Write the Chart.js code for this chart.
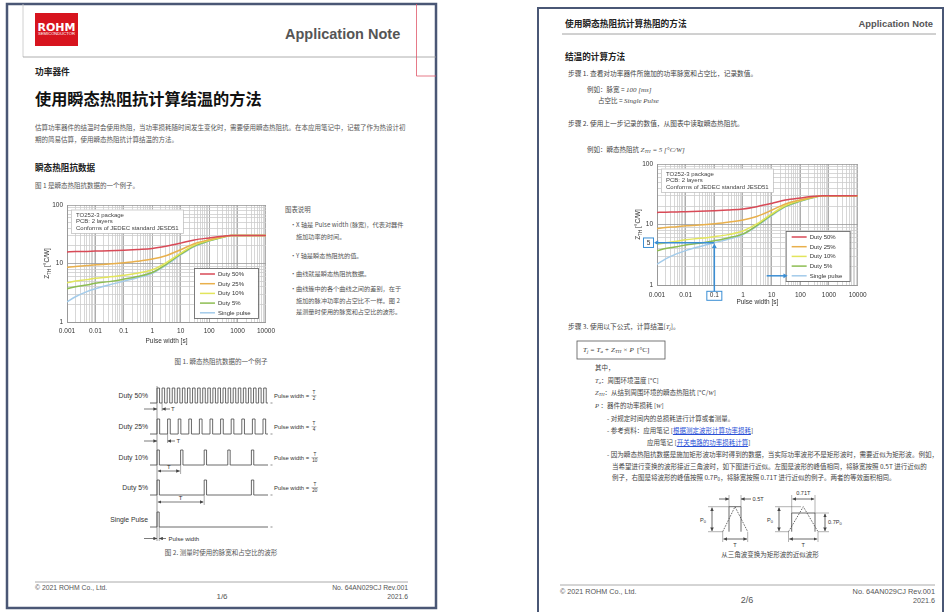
<!DOCTYPE html>
<html lang="zh-CN">
<head>
<meta charset="utf-8">
<title>使用瞬态热阻抗计算结温的方法</title>
<script src="https://cdn.jsdelivr.net/npm/chart.js@4.4.1/dist/chart.umd.min.js"></script>
<style>
  html, body { margin:0; padding:0; background:#fff; }
  body { position:relative; width:949px; height:612px; overflow:hidden;
         font-family:"Noto Sans CJK SC","Liberation Sans",sans-serif; color:#444; }
  .t { position:absolute; white-space:nowrap; line-height:1; }
  .lat { font-family:"Liberation Sans",Arial,sans-serif; }
  .b { font-weight:bold; }
  .c { transform:translateX(-50%); }
  .m { font-family:"Liberation Serif","DejaVu Serif",serif; font-style:italic; }
  sub { font-size:70%; vertical-align:-0.25em; line-height:0; }
  .lnk { color:#2a4fd6; text-decoration:underline; }
  .chart { position:absolute; }
  svg.deco { position:absolute; left:0; top:0; }
</style>
</head>
<body>
<svg class="deco" id="deco" width="949" height="612" xmlns="http://www.w3.org/2000/svg">
  <defs>
    <marker id="ah" viewBox="0 0 6 6" refX="6" refY="3" markerUnits="userSpaceOnUse"
            markerWidth="3.6" markerHeight="3.6" orient="auto-start-reverse">
      <path d="M0 0 L6 3 L0 6 Z" fill="#444"/>
    </marker>
  </defs>
  <!-- page 1 frame and header -->
  <rect x="7" y="4" width="429" height="604" fill="none" stroke="#4a5775" stroke-width="2.5"/>
  <line x1="23" y1="4" x2="23" y2="57" stroke="#c4c4c4" stroke-width="0.8"/>
  <line x1="23" y1="57" x2="436" y2="57" stroke="#9a9a9a" stroke-width="0.8"/>
  <polyline points="416.5,4 416.5,76 436,76" fill="none" stroke="#e0586a" stroke-width="0.8"/>
  <rect x="35" y="13" width="43" height="33" fill="#d7141e"/>
  <text x="56.5" y="30.6" text-anchor="middle" font-family="DejaVu Sans" font-weight="bold" font-size="11" fill="#fff">ROHM</text>
  <text x="38" y="35.4" font-family="Liberation Sans" font-size="3" fill="#fff" textLength="37" lengthAdjust="spacingAndGlyphs">SEMICONDUCTOR</text>
  <line x1="35" y1="582" x2="408" y2="582" stroke="#aaa" stroke-width="1"/>

  <!-- page 2 frame and header -->
  <rect x="538" y="8" width="405" height="620" fill="none" stroke="#4a5775" stroke-width="2"/>
  <line x1="562" y1="34" x2="936" y2="34" stroke="#8a8a8a" stroke-width="0.8"/>
  <line x1="560" y1="585" x2="935" y2="585" stroke="#aaa" stroke-width="1"/>
  <rect x="577" y="341" width="88" height="18" fill="none" stroke="#555" stroke-width="0.8"/>

  <!-- triangle to rectangle approximation, left: same peak, 0.5T -->
  <g stroke="#444" stroke-width="0.8" fill="none">
    <path d="M729 531.7 V506.7 H741 V531.7"/>
    <path d="M722.7 531.7 L735 506.7 L747.7 531.7" stroke-dasharray="1.6 1.2"/>
    <path d="M708 506.7 H729 M708 531.7 H722.7 M729 495 V506.7 M741 495 V506.7 M722.7 531.7 V542 M747.7 531.7 V542" stroke="#666" stroke-width="0.5"/>
    <line x1="712" y1="507.5" x2="712" y2="531" marker-start="url(#ah)" marker-end="url(#ah)"/>
    <line x1="719" y1="499" x2="729" y2="499" marker-end="url(#ah)"/>
    <line x1="751" y1="499" x2="741" y2="499" marker-end="url(#ah)"/>
    <line x1="723.5" y1="539" x2="747" y2="539" marker-start="url(#ah)" marker-end="url(#ah)"/>
  </g>
  <!-- right: 0.7 peak, 0.71T -->
  <g stroke="#444" stroke-width="0.8" fill="none">
    <path d="M791.7 531.7 V513 H815 V531.7"/>
    <path d="M788.5 531.7 L803.3 506.7 L818 531.7" stroke-dasharray="1.6 1.2"/>
    <path d="M775 506.7 H801 M775 531.7 H788.5 M815 513 H829 M818 531.7 H829 M791.7 495 V513 M815 495 V513 M788.5 531.7 V542 M818 531.7 V542" stroke="#666" stroke-width="0.5"/>
    <line x1="779" y1="507.5" x2="779" y2="531" marker-start="url(#ah)" marker-end="url(#ah)"/>
    <line x1="825" y1="513.8" x2="825" y2="531" marker-start="url(#ah)" marker-end="url(#ah)"/>
    <line x1="792.5" y1="499" x2="814.2" y2="499" marker-start="url(#ah)" marker-end="url(#ah)"/>
    <line x1="789.3" y1="539" x2="817.2" y2="539" marker-start="url(#ah)" marker-end="url(#ah)"/>
  </g>
  <g font-family="Liberation Sans" font-size="5.6" fill="#333">
    <text x="752.5" y="501">0.5T</text>
    <text x="706" y="522" text-anchor="end">P<tspan font-size="4" dy="1.4">0</tspan></text>
    <text x="735" y="546.8" text-anchor="middle">T</text>
    <text x="803.3" y="494.6" text-anchor="middle">0.71T</text>
    <text x="773" y="522" text-anchor="end">P<tspan font-size="4" dy="1.4">0</tspan></text>
    <text x="828" y="524">0.7P<tspan font-size="4" dy="1.4">0</tspan></text>
    <text x="803.3" y="546.8" text-anchor="middle">T</text>
  </g>
</svg>

<!-- page 1 -->
<div class="t lat b" style="left:285px;top:27px;font-size:14.5px;color:#555">Application Note</div>
<div class="t b" style="left:35px;top:67.8px;font-size:8.7px;color:#222">功率器件</div>
<div class="t b" style="left:35px;top:90.4px;font-size:16.2px;color:#111">使用瞬态热阻抗计算结温的方法</div>
<div class="t" style="left:35px;top:123.7px;font-size:6.5px;color:#555">估算功率器件的结温时会使用热阻，当功率损耗随时间发生变化时，需要使用瞬态热阻抗。在本应用笔记中，记载了作为热设计初</div>
<div class="t" style="left:35px;top:135.7px;font-size:6.5px;color:#555">期的简易估算，使用瞬态热阻抗计算结温的方法。</div>
<div class="t b" style="left:35px;top:162.5px;font-size:8.6px;color:#222">瞬态热阻抗数据</div>
<div class="t" style="left:35px;top:182.1px;font-size:6.5px;color:#555">图 1 是瞬态热阻抗数据的一个例子。</div>

<div class="t" style="left:285px;top:206.5px;font-size:6.4px;color:#555">图表说明</div>
<div class="t" style="left:290px;top:222.2px;font-size:6.4px;color:#555">·</div>
<div class="t" style="left:296px;top:222.2px;font-size:6.2px;color:#555">X 轴是 Pulse width (脉宽)，代表对器件</div>
<div class="t" style="left:296px;top:234.2px;font-size:6.2px;color:#555">施加功率的时间。</div>
<div class="t" style="left:290px;top:252.5px;font-size:6.4px;color:#555">·</div>
<div class="t" style="left:296px;top:252.5px;font-size:6.2px;color:#555">Y 轴是瞬态热阻抗的值。</div>
<div class="t" style="left:290px;top:270.5px;font-size:6.4px;color:#555">·</div>
<div class="t" style="left:296px;top:270.5px;font-size:6.2px;color:#555">曲线就是瞬态热阻抗数据。</div>
<div class="t" style="left:290px;top:285.5px;font-size:6.4px;color:#555">·</div>
<div class="t" style="left:296px;top:285.5px;font-size:6.2px;color:#555">曲线簇中的各个曲线之间的差别，在于</div>
<div class="t" style="left:296px;top:297.5px;font-size:6.2px;color:#555">施加的脉冲功率的占空比不一样。图 2</div>
<div class="t" style="left:296px;top:308.8px;font-size:6.2px;color:#555">是测量时使用的脉宽和占空比的波形。</div>

<div class="t c" style="left:221px;top:357.5px;font-size:6.5px;color:#555">图 1. 瞬态热阻抗数据的一个例子</div>
<div class="t c" style="left:221px;top:548.8px;font-size:6.5px;color:#555">图 2. 测量时使用的脉宽和占空比的波形</div>

<div class="t lat" style="left:35px;top:584.6px;font-size:6.8px;color:#555">© 2021 ROHM Co., Ltd.</div>
<div class="t lat c" style="left:222px;top:593px;font-size:8px;color:#555">1/6</div>
<div class="t lat" style="right:541px;top:584.6px;font-size:6.8px;color:#555">No. 64AN029CJ Rev.001</div>
<div class="t lat" style="right:541px;top:593.6px;font-size:6.8px;color:#555">2021.6</div>

<!-- page 2 -->
<div class="t b" style="left:565px;top:19.5px;font-size:8.7px;color:#222">使用瞬态热阻抗计算热阻的方法</div>
<div class="t lat b" style="right:16px;top:18.7px;font-size:9.4px;color:#555">Application Note</div>
<div class="t b" style="left:565px;top:52px;font-size:8.6px;color:#222">结温的计算方法</div>
<div class="t" style="left:568px;top:70.4px;font-size:6.7px;color:#444">步骤 1. 查看对功率器件所施加的功率脉宽和占空比，记录数值。</div>
<div class="t" style="left:587px;top:86.4px;font-size:6.5px;color:#444">例如：脉宽 = <span class="m" style="font-size:7px">100 [ms]</span></div>
<div class="t" style="left:598px;top:97.1px;font-size:6.5px;color:#444">占空比 = <span class="m" style="font-size:7px">Single Pulse</span></div>
<div class="t" style="left:568px;top:119.7px;font-size:6.7px;color:#444">步骤 2. 使用上一步记录的数值，从图表中读取瞬态热阻抗。</div>
<div class="t" style="left:587px;top:146.4px;font-size:6.5px;color:#444">例如：瞬态热阻抗 <span class="m" style="font-size:7px">Z<sub>TH</sub> = 5 [°C/W]</span></div>

<div class="t" style="left:568px;top:323.4px;font-size:6.7px;color:#444">步骤 3. 使用以下公式，计算结温[<span class="m">T<sub>j</sub></span>]。</div>
<div class="t m" style="left:583px;top:346.5px;font-size:7px;color:#333">T<sub>j</sub> = T<sub>a</sub> + Z<sub>TH</sub> × P &nbsp;<span style="font-style:normal">[°C]</span></div>
<div class="t" style="left:595px;top:364.4px;font-size:6.5px;color:#444">其中，</div>
<div class="t" style="left:595px;top:377.4px;font-size:6.5px;color:#444"><span class="m">T<sub>a</sub></span>：周围环境温度 [°C]</div>
<div class="t" style="left:595px;top:389.4px;font-size:6.5px;color:#444"><span class="m">Z<sub>TH</sub></span>：从结到周围环境的瞬态热阻抗 [°C/<span class="m">W</span>]</div>
<div class="t" style="left:595px;top:402.4px;font-size:6.5px;color:#444"><span class="m">P</span> ：器件的功率损耗 [<span class="m">W</span>]</div>
<div class="t" style="left:607px;top:415.4px;font-size:6.5px;color:#444">- 对规定时间内的总损耗进行计算或者测量。</div>
<div class="t" style="left:607px;top:427px;font-size:6.5px;color:#444">- 参考资料：应用笔记 [<span class="lnk">根据测定波形计算功率损耗</span>]</div>
<div class="t" style="left:647px;top:439.1px;font-size:6.5px;color:#444">应用笔记 [<span class="lnk">开关电路的功率损耗计算</span>]</div>
<div class="t" style="left:607px;top:451.4px;font-size:6.55px;color:#444">- 因为瞬态热阻抗数据是施加矩形波功率时得到的数据，当实际功率波形不是矩形波时，需要近似为矩形波。例如，</div>
<div class="t" style="left:612px;top:463.1px;font-size:6.5px;color:#444">当希望进行变换的波形接近三角波时，如下图进行近似。左图是波形的峰值相同，将脉宽按照 0.5T 进行近似的</div>
<div class="t" style="left:612px;top:474.4px;font-size:6.5px;color:#444">例子，右图是将波形的峰值按照 0.7P<sub>0</sub>，将脉宽按照 0.71T 进行近似的例子。两者的等效面积相同。</div>
<div class="t c" style="left:770px;top:550.7px;font-size:6.5px;color:#444">从三角波变换为矩形波的近似波形</div>

<div class="t lat" style="left:560px;top:588px;font-size:7.2px;color:#555">© 2021 ROHM Co., Ltd.</div>
<div class="t lat c" style="left:747px;top:595.5px;font-size:9px;color:#555">2/6</div>
<div class="t lat" style="right:14px;top:588px;font-size:7.4px;color:#555">No. 64AN029CJ Rev.001</div>
<div class="t lat" style="right:14px;top:597.4px;font-size:7.2px;color:#555">2021.6</div>

<div class="chart" style="left:35px;top:195px;width:245px;height:153px"><canvas id="zthChart1"></canvas></div>
<div class="chart" style="left:625px;top:155px;width:248px;height:156px"><canvas id="zthChart2"></canvas></div>

<script>
// Transient thermal impedance Zth [°C/W] versus pulse width [s], TO252-3 on 2-layer PCB
const pulseWidths = [0.001, 0.002, 0.005, 0.01, 0.03, 0.1, 0.3, 1, 3, 10, 30, 100, 300, 600, 1000, 10000];
const duty50      = [15.8, 16.0, 16.1, 16.3, 16.5, 16.9, 17.4, 18.1, 19.7, 22.3, 25.3, 27.4, 29.2, 30, 30, 30];
const duty25      = [8.6, 8.9, 9.2, 9.5, 9.8, 10.3, 10.9, 11.9, 13.6, 17.2, 21.8, 25.5, 28.6, 30, 30, 30];
const duty10      = [4.7, 5.0, 5.3, 5.6, 5.9, 6.3, 6.8, 7.8, 10.2, 15.0, 20.6, 24.9, 28.4, 30, 30, 30];
const duty5       = [3.7, 4.0, 4.3, 4.6, 4.9, 5.4, 6.0, 7.0, 9.6, 14.4, 19.9, 24.4, 28.2, 30, 30, 30];
const singlePulse = [2.2, 2.7, 3.3, 3.7, 4.3, 5.0, 5.7, 6.8, 9.3, 14.0, 19.5, 24.1, 28.0, 30, 30, 30];

const seriesNames  = ['Duty 50%', 'Duty 25%', 'Duty 10%', 'Duty 5%', 'Single pulse'];
const seriesValues = [duty50, duty25, duty10, duty5, singlePulse];
const seriesColors = ['#d84a57', '#e9b04c', '#e2e55c', '#8dbd52', '#a3cbea'];

const xTickLabels = ['0.001', '0.01', '0.1', '1', '10', '100', '1000', '10000'];
const yTickLabels = ['1', '10', '100'];
const noteLines   = ['TO252-3 package', 'PCB: 2 layers', 'Conforms of JEDEC standard JESD51'];

// worked example
const readPulseWidth = 0.1;
const readZth = 5;

const FONT = '"Liberation Sans", Arial, sans-serif';

function isDecade(v) {
  const l = Math.log10(v);
  return Math.abs(l - Math.round(l)) < 1e-6;
}
// grid ticks at 1..9 x 10^n for every decade in the axis range
function logGridTicks(minExp, maxExp) {
  const out = [];
  for (let e = minExp; e < maxExp; e++)
    for (let k = 1; k < 10; k++) out.push({ value: +(k * Math.pow(10, e)).toPrecision(3) });
  out.push({ value: Math.pow(10, maxExp) });
  return out;
}
function labelFrom(list) {
  return v => {
    if (!isDecade(v)) return '';
    const hit = list.find(s => Math.abs(+s - v) <= Math.abs(v) * 1e-6);
    return hit || '';
  };
}
const gridColor = c => (c.tick && isDecade(c.tick.value)) ? '#999999' : '#cdcdcd';

function arrow(ctx, x1, y1, x2, y2, color) {
  const ang = Math.atan2(y2 - y1, x2 - x1), h = 4.2;
  ctx.strokeStyle = color; ctx.fillStyle = color; ctx.lineWidth = 1.5;
  ctx.beginPath();
  ctx.moveTo(x1, y1);
  ctx.lineTo(x2 - Math.cos(ang) * h * 0.8, y2 - Math.sin(ang) * h * 0.8);
  ctx.stroke();
  ctx.beginPath();
  ctx.moveTo(x2, y2);
  ctx.lineTo(x2 - h * Math.cos(ang) + 2.4 * Math.sin(ang), y2 - h * Math.sin(ang) - 2.4 * Math.cos(ang));
  ctx.lineTo(x2 - h * Math.cos(ang) - 2.4 * Math.sin(ang), y2 - h * Math.sin(ang) + 2.4 * Math.cos(ang));
  ctx.closePath(); ctx.fill();
}

// note box, in-plot legend, rotated Z_TH title and the reading arrows
const zthExtras = {
  id: 'zthExtras',
  afterDatasetsDraw(chart) {
    const { ctx, chartArea: a } = chart;
    ctx.save();
    const nx = a.left + 4, ny = a.top + 4.5, nw = 112, nh = 23.5;
    ctx.fillStyle = '#fff'; ctx.fillRect(nx, ny, nw, nh);
    ctx.strokeStyle = '#c2c2c2'; ctx.lineWidth = 0.8; ctx.strokeRect(nx + 0.5, ny + 0.5, nw, nh);
    ctx.fillStyle = '#444'; ctx.font = '6px ' + FONT; ctx.textBaseline = 'middle'; ctx.textAlign = 'left';
    noteLines.forEach((s, i) => ctx.fillText(s, nx + 5, ny + 5.6 + i * 6.6));

    const lw = 64, lh = 50, lx = a.right - 8 - lw, ly = a.bottom - 4 - lh;
    ctx.fillStyle = '#fff'; ctx.fillRect(lx, ly, lw, lh);
    ctx.strokeStyle = '#6e6e6e'; ctx.lineWidth = 0.9; ctx.strokeRect(lx + 0.5, ly + 0.5, lw, lh);
    seriesNames.forEach((n, i) => {
      const y = ly + 6 + i * 9.7;
      ctx.strokeStyle = seriesColors[i]; ctx.lineWidth = 1.5;
      ctx.beginPath(); ctx.moveTo(lx + 6, y); ctx.lineTo(lx + 21, y); ctx.stroke();
      ctx.fillStyle = '#333'; ctx.font = '6px ' + FONT;
      ctx.fillText(n, lx + 24, y + 0.3);
    });
    chart.$legendBox = { lx, ly };
    ctx.restore();
  },
  afterDraw(chart, args, opts) {
    const { ctx, chartArea: a } = chart;
    ctx.save();
    // y-axis title Z_TH [°C/W]
    ctx.translate(opts.titleX, (a.top + a.bottom) / 2);
    ctx.rotate(-Math.PI / 2);
    const big = '6.5px ' + FONT, small = '4.6px ' + FONT;
    ctx.font = big; const wZ = ctx.measureText('Z').width, wR = ctx.measureText(' [°C/W]').width;
    ctx.font = small; const wS = ctx.measureText('TH').width;
    const x0 = -(wZ + wS + wR) / 2;
    ctx.fillStyle = '#333'; ctx.textBaseline = 'alphabetic'; ctx.textAlign = 'left';
    ctx.font = big; ctx.fillText('Z', x0, 2.3);
    ctx.font = small; ctx.fillText('TH', x0 + wZ, 3.9);
    ctx.font = big; ctx.fillText(' [°C/W]', x0 + wZ + wS, 2.3);
    ctx.restore();

    if (!opts.reading) return;
    const blue = '#3a8ed4';
    const px = chart.scales.x.getPixelForValue(readPulseWidth);
    const py = chart.scales.y.getPixelForValue(readZth);
    ctx.save();
    // boxed x reading under the axis
    const bw = 15, bh = 9, by = a.bottom + 6.3;
    ctx.strokeStyle = blue; ctx.lineWidth = 1;
    ctx.strokeRect(px - bw / 2, by, bw, bh);
    // boxed y reading left of the axis
    const fw = 10, fh = 9.5, fr = a.left - 3.5;
    ctx.fillStyle = '#fff'; ctx.fillRect(fr - fw, py - fh / 2, fw, fh);
    ctx.strokeRect(fr - fw, py - fh / 2, fw, fh);
    ctx.fillStyle = '#333'; ctx.font = '6.5px ' + FONT; ctx.textAlign = 'center'; ctx.textBaseline = 'middle';
    ctx.fillText(String(readZth), fr - fw / 2, py + 0.4);
    arrow(ctx, px, by, px, py + 1, blue);
    arrow(ctx, px, py, fr + 0.5, py, blue);
    // pointer to the single-pulse legend entry
    const lb = chart.$legendBox;
    const sy = lb.ly + 6 + 4 * 9.7;
    arrow(ctx, lb.lx - 19, sy, lb.lx + 2, sy, blue);
    ctx.restore();
  }
};

function buildChart(canvasId, padTop, reading, titleX) {
  return new Chart(document.getElementById(canvasId), {
    type: 'line',
    data: {
      datasets: seriesNames.map((name, i) => ({
        label: name,
        data: pulseWidths.map((x, j) => ({ x, y: seriesValues[i][j] })),
        borderColor: seriesColors[i],
        borderWidth: 1.5,
        pointRadius: 0,
        cubicInterpolationMode: 'monotone',
        fill: false
      }))
    },
    options: {
      responsive: true,
      maintainAspectRatio: false,
      animation: false,
      events: [],
      layout: { padding: { top: padTop, right: 13, left: 0, bottom: 0 } },
      plugins: {
        legend: { display: false },
        tooltip: { enabled: false },
        zthExtras: { reading, titleX }
      },
      scales: {
        x: {
          type: 'logarithmic', min: 0.001, max: 10000,
          afterBuildTicks: s => { s.ticks = logGridTicks(-3, 4); },
          afterFit: s => { s.height = 26; },
          grid: { color: gridColor, lineWidth: 0.8, drawTicks: false },
          border: { color: '#999', width: 1 },
          ticks: { autoSkip: false, maxRotation: 0, minRotation: 0, padding: reading ? 6.3 : 5,
                   color: '#333', font: { family: FONT, size: 6.5 }, callback: labelFrom(xTickLabels) },
          title: { display: true, text: 'Pulse width [s]', color: '#333',
                   font: { family: FONT, size: 6.5 }, padding: { top: 0, bottom: reading ? 5 : 3 } }
        },
        y: {
          type: 'logarithmic', min: 1, max: 100,
          afterBuildTicks: s => { s.ticks = logGridTicks(0, 2); },
          afterFit: s => { s.width = 32; },
          grid: { color: gridColor, lineWidth: 0.8, drawTicks: false },
          border: { color: '#999', width: 1 },
          ticks: { autoSkip: false, padding: 4, color: '#333',
                   font: { family: FONT, size: 6.5 }, callback: labelFrom(yTickLabels) }
        }
      }
    },
    plugins: [zthExtras]
  });
}

buildChart('zthChart1', 10, false, 12);
buildChart('zthChart2', 9, true, 13);

// measurement waveforms for each duty cycle (figure 2)
const NS = 'http://www.w3.org/2000/svg';
const deco = document.getElementById('deco');
function add(tag, attrs, text) {
  const e = document.createElementNS(NS, tag);
  for (const k in attrs) e.setAttribute(k, attrs[k]);
  if (text !== undefined) e.textContent = text;
  deco.appendChild(e);
  return e;
}
const waveRows = [
  { label: 'Duty 50%',     hi: 388, lo: 403, period: 5.08, width: 2.54, pulses: 22, den: '2' },
  { label: 'Duty 25%',     hi: 419, lo: 434, period: 10.6, width: 2.65, pulses: 11, den: '4' },
  { label: 'Duty 10%',     hi: 450, lo: 465, period: 23.6, width: 2.36, pulses: 5,  den: '10' },
  { label: 'Duty 5%',      hi: 480, lo: 495, period: 47.2, width: 2.36, pulses: 3,  den: '20' },
  { label: 'Single Pulse', hi: 512, lo: 527, period: 0,    width: 2.2,  pulses: 1 }
];
const wx0 = 150, wEdge = 157, wEnd = 268;
waveRows.forEach(r => {
  let d = `M${wx0} ${r.lo} H${wEdge}`;
  for (let k = 0; k < r.pulses; k++) {
    const x = wEdge + k * r.period;
    d += ` H${x.toFixed(2)} V${r.hi} H${(x + r.width).toFixed(2)} V${r.lo}`;
  }
  d += ` H${wEnd}`;
  add('path', { d, fill: 'none', stroke: '#444', 'stroke-width': 0.8 });
  add('line', { x1: 270.5, y1: r.lo, x2: 272.5, y2: r.lo, stroke: '#444', 'stroke-width': 0.6 });
  const mid = (r.hi + r.lo) / 2;
  add('text', { x: 148, y: mid + 2.4, 'text-anchor': 'end', 'font-family': 'Liberation Sans', 'font-size': 6.8, fill: '#333' }, r.label);
  if (r.den) {
    add('text', { x: 274, y: mid + 2.1, 'font-family': 'Liberation Sans', 'font-size': 5.9, fill: '#333' }, 'Pulse width =');
    const fx = r.den.length > 1 ? 314.8 : 314;
    add('text', { x: fx, y: mid - 1.3, 'text-anchor': 'middle', 'font-family': 'Liberation Sans', 'font-size': 4.6, fill: '#333' }, 'T');
    add('line', { x1: fx - (r.den.length > 1 ? 3.3 : 2.4), y1: mid + 0.2, x2: fx + (r.den.length > 1 ? 3.3 : 2.4), y2: mid + 0.2, stroke: '#333', 'stroke-width': 0.4 });
    add('text', { x: fx, y: mid + 4.9, 'text-anchor': 'middle', 'font-family': 'Liberation Sans', 'font-size': 4.6, fill: '#333' }, r.den);
  }
});
// alignment line through the first rising edges
add('line', { x1: wEdge, y1: 386, x2: wEdge, y2: 541, stroke: '#555', 'stroke-width': 0.6 });
function dimLine(x1, y, x2, both) {
  const a = { x1, y1: y, x2, y2: y, stroke: '#444', 'stroke-width': 0.7, 'marker-end': 'url(#ah)' };
  if (both) a['marker-start'] = 'url(#ah)';
  add('line', a);
}
function ext(x, y1, y2) { add('line', { x1: x, y1, x2: x, y2, stroke: '#555', 'stroke-width': 0.5 }); }
const tText = { 'font-family': 'Liberation Sans', 'font-size': 6, fill: '#333' };
// period marks for 50 % and 25 %
ext(wEdge + 5.08, 403, 411); dimLine(144, 409, wEdge); dimLine(170, 409, wEdge + 5.08);
add('text', Object.assign({ x: 171, y: 411.2 }, tText), 'T');
ext(wEdge + 10.6, 434, 443); dimLine(144, 441, wEdge); dimLine(175, 441, wEdge + 10.6);
add('text', Object.assign({ x: 176.5, y: 443.2 }, tText), 'T');
// period marks for 10 % and 5 %
ext(wEdge + 23.6, 465, 474); dimLine(wEdge + 0.8, 471, wEdge + 22.8, true);
add('text', Object.assign({ x: wEdge + 11.8, y: 469, 'text-anchor': 'middle' }, tText), 'T');
ext(wEdge + 47.2, 495, 505); dimLine(wEdge + 0.8, 502, wEdge + 46.4, true);
add('text', Object.assign({ x: wEdge + 23.6, y: 500, 'text-anchor': 'middle' }, tText), 'T');
// single pulse width
ext(wEdge + 2.2, 527, 541); dimLine(144, 538.5, wEdge); dimLine(166, 538.5, wEdge + 2.2);
add('text', Object.assign({ x: 168.5, y: 540.6 }, tText), 'Pulse width');
</script>
</body>
</html>
